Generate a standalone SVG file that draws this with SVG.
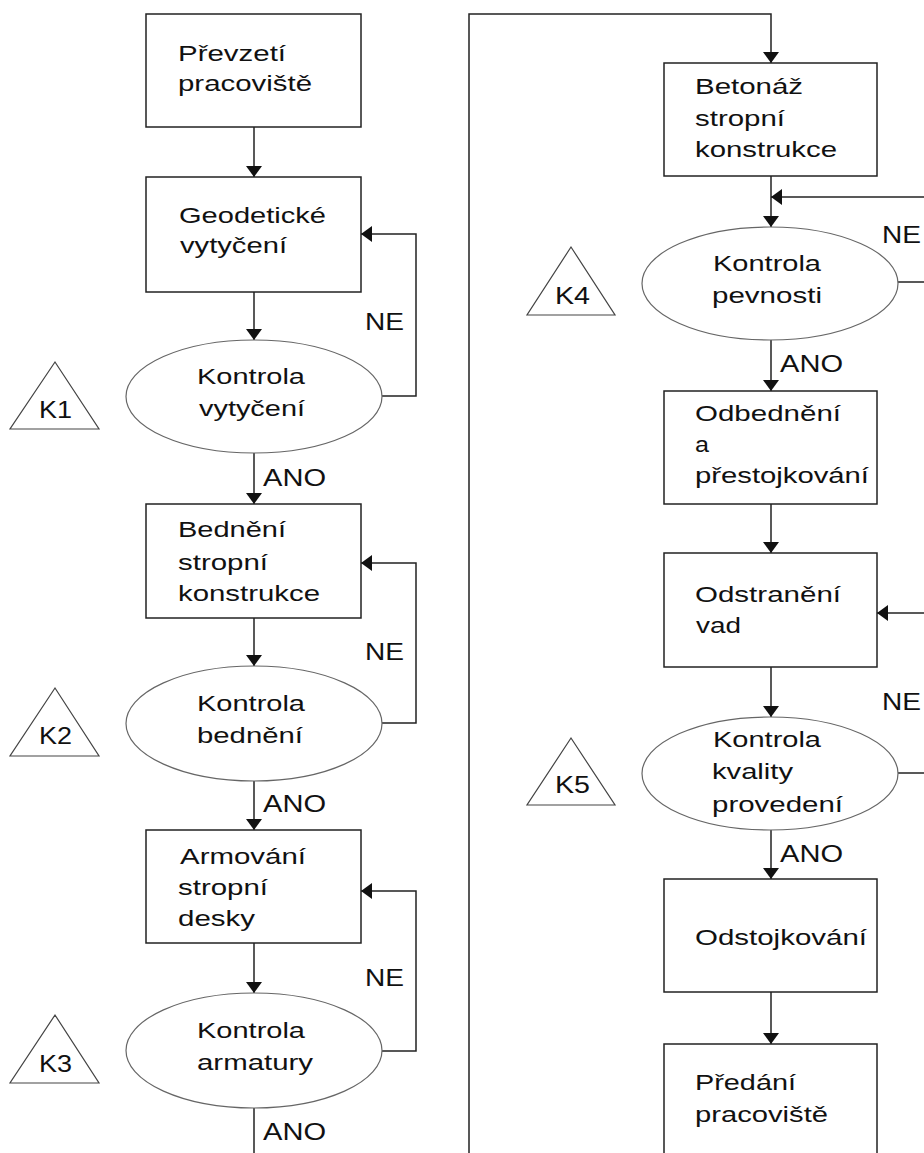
<svg xmlns="http://www.w3.org/2000/svg" width="924" height="1153" viewBox="0 0 924 1153">
<style>
.box{fill:#fff;stroke:#222;stroke-width:1.5}
.ell{fill:#fff;stroke:#666;stroke-width:1.2}
.tri{fill:#fff;stroke:#444;stroke-width:1.2}
.con{fill:none;stroke:#222;stroke-width:1.5}
text{font-family:"Liberation Sans",Arial,sans-serif;font-size:22px;fill:#111}
.lbl{font-size:23px}
</style>
<defs>
<marker id="ah" markerUnits="userSpaceOnUse" markerWidth="12" markerHeight="17" refX="11" refY="8" orient="auto" viewBox="0 0 12 17">
<path d="M0,0 L11,8 L0,16 z" fill="#111"/>
</marker>
</defs>
<rect width="924" height="1153" fill="#fff"/>
<g id="connectors">
<path class="con" d="M254,127 V177" marker-end="url(#ah)"/>
<path class="con" d="M254,292 V340" marker-end="url(#ah)"/>
<path class="con" d="M382,396 H416 V234 H361" marker-end="url(#ah)"/>
<path class="con" d="M254,453 V504" marker-end="url(#ah)"/>
<path class="con" d="M254,618 V666" marker-end="url(#ah)"/>
<path class="con" d="M382,723 H416 V563 H361" marker-end="url(#ah)"/>
<path class="con" d="M254,781 V830" marker-end="url(#ah)"/>
<path class="con" d="M254,943 V993" marker-end="url(#ah)"/>
<path class="con" d="M382,1051 H416 V891 H361" marker-end="url(#ah)"/>
<path class="con" d="M254,1108 V1160"/>
<path class="con" d="M469,1160 V14 H771 V63" marker-end="url(#ah)"/>
<path class="con" d="M771,176 V227" marker-end="url(#ah)"/>
<path class="con" d="M930,197 H771" marker-end="url(#ah)"/>
<path class="con" d="M898,282 H930"/>
<path class="con" d="M771,340 V391" marker-end="url(#ah)"/>
<path class="con" d="M771,504 V553" marker-end="url(#ah)"/>
<path class="con" d="M930,613 H877" marker-end="url(#ah)"/>
<path class="con" d="M771,667 V717" marker-end="url(#ah)"/>
<path class="con" d="M898,773 H930"/>
<path class="con" d="M771,830 V879" marker-end="url(#ah)"/>
<path class="con" d="M771,992 V1044" marker-end="url(#ah)"/>
<text class="lbl" x="365" y="330" textLength="39" lengthAdjust="spacingAndGlyphs">NE</text>
<text class="lbl" x="263" y="486" textLength="63" lengthAdjust="spacingAndGlyphs">ANO</text>
<text class="lbl" x="365" y="660" textLength="39" lengthAdjust="spacingAndGlyphs">NE</text>
<text class="lbl" x="263" y="812" textLength="63" lengthAdjust="spacingAndGlyphs">ANO</text>
<text class="lbl" x="365" y="986" textLength="39" lengthAdjust="spacingAndGlyphs">NE</text>
<text class="lbl" x="263" y="1140" textLength="63" lengthAdjust="spacingAndGlyphs">ANO</text>
<text class="lbl" x="882" y="243" textLength="39" lengthAdjust="spacingAndGlyphs">NE</text>
<text class="lbl" x="780" y="372" textLength="63" lengthAdjust="spacingAndGlyphs">ANO</text>
<text class="lbl" x="882" y="710" textLength="39" lengthAdjust="spacingAndGlyphs">NE</text>
<text class="lbl" x="780" y="862" textLength="63" lengthAdjust="spacingAndGlyphs">ANO</text>
</g>
<g id="n1"><rect class="box" x="146" y="14" width="215" height="113"/>
<text x="178" y="61" textLength="108" lengthAdjust="spacingAndGlyphs">Převzetí</text>
<text x="178" y="91" textLength="134" lengthAdjust="spacingAndGlyphs">pracoviště</text></g>
<g id="n2"><rect class="box" x="146" y="177" width="215" height="115"/>
<text x="179" y="223" textLength="147" lengthAdjust="spacingAndGlyphs">Geodetické</text>
<text x="180" y="253" textLength="107" lengthAdjust="spacingAndGlyphs">vytyčení</text></g>
<g id="n3"><ellipse class="ell" cx="254" cy="396.5" rx="128" ry="56.5"/>
<text x="197" y="384" textLength="108" lengthAdjust="spacingAndGlyphs">Kontrola</text>
<text x="199" y="416" textLength="106" lengthAdjust="spacingAndGlyphs">vytyčení</text></g>
<g id="k1"><polygon class="tri" points="55,362 10,429 99,429"/>
<text class="lbl" x="39" y="418" textLength="33" lengthAdjust="spacingAndGlyphs">K1</text></g>
<g id="n4"><rect class="box" x="146" y="504" width="215" height="114"/>
<text x="178" y="537" textLength="108" lengthAdjust="spacingAndGlyphs">Bednění</text>
<text x="178" y="570" textLength="90" lengthAdjust="spacingAndGlyphs">stropní</text>
<text x="178" y="601" textLength="142" lengthAdjust="spacingAndGlyphs">konstrukce</text></g>
<g id="n5"><ellipse class="ell" cx="254" cy="723.5" rx="128" ry="57.5"/>
<text x="197" y="711" textLength="108" lengthAdjust="spacingAndGlyphs">Kontrola</text>
<text x="197" y="743" textLength="106" lengthAdjust="spacingAndGlyphs">bednění</text></g>
<g id="k2"><polygon class="tri" points="55,688 10,756 99,756"/>
<text class="lbl" x="39" y="744" textLength="33" lengthAdjust="spacingAndGlyphs">K2</text></g>
<g id="n6"><rect class="box" x="146" y="830" width="215" height="113"/>
<text x="180" y="864" textLength="126" lengthAdjust="spacingAndGlyphs">Armování</text>
<text x="178" y="895" textLength="90" lengthAdjust="spacingAndGlyphs">stropní</text>
<text x="178" y="926" textLength="77" lengthAdjust="spacingAndGlyphs">desky</text></g>
<g id="n7"><ellipse class="ell" cx="254" cy="1050.5" rx="128" ry="57.5"/>
<text x="197" y="1038" textLength="108" lengthAdjust="spacingAndGlyphs">Kontrola</text>
<text x="197" y="1070" textLength="116" lengthAdjust="spacingAndGlyphs">armatury</text></g>
<g id="k3"><polygon class="tri" points="55,1015 10,1083 99,1083"/>
<text class="lbl" x="39" y="1072" textLength="33" lengthAdjust="spacingAndGlyphs">K3</text></g>
<g id="n8"><rect class="box" x="664" y="63" width="213" height="113"/>
<text x="695" y="94" textLength="108" lengthAdjust="spacingAndGlyphs">Betonáž</text>
<text x="695" y="126" textLength="90" lengthAdjust="spacingAndGlyphs">stropní</text>
<text x="695" y="157" textLength="142" lengthAdjust="spacingAndGlyphs">konstrukce</text></g>
<g id="n9"><ellipse class="ell" cx="770" cy="283.5" rx="128" ry="56.5"/>
<text x="713" y="271" textLength="108" lengthAdjust="spacingAndGlyphs">Kontrola</text>
<text x="712" y="303" textLength="110" lengthAdjust="spacingAndGlyphs">pevnosti</text></g>
<g id="k4"><polygon class="tri" points="571,247 527,315 615,315"/>
<text class="lbl" x="555" y="304" textLength="35" lengthAdjust="spacingAndGlyphs">K4</text></g>
<g id="n10"><rect class="box" x="664" y="391" width="213" height="113"/>
<text x="695" y="421" textLength="146" lengthAdjust="spacingAndGlyphs">Odbednění</text>
<text x="695" y="452" textLength="14" lengthAdjust="spacingAndGlyphs">a</text>
<text x="695" y="483" textLength="174" lengthAdjust="spacingAndGlyphs">přestojkování</text></g>
<g id="n11"><rect class="box" x="664" y="553" width="213" height="114"/>
<text x="695" y="602" textLength="146" lengthAdjust="spacingAndGlyphs">Odstranění</text>
<text x="696" y="633" textLength="45" lengthAdjust="spacingAndGlyphs">vad</text></g>
<g id="n12"><ellipse class="ell" cx="770" cy="773.5" rx="128" ry="56.5"/>
<text x="713" y="747" textLength="108" lengthAdjust="spacingAndGlyphs">Kontrola</text>
<text x="712" y="779" textLength="81" lengthAdjust="spacingAndGlyphs">kvality</text>
<text x="712" y="812" textLength="131" lengthAdjust="spacingAndGlyphs">provedení</text></g>
<g id="k5"><polygon class="tri" points="571,738 527,805 615,805"/>
<text class="lbl" x="555" y="793" textLength="35" lengthAdjust="spacingAndGlyphs">K5</text></g>
<g id="n13"><rect class="box" x="664" y="879" width="213" height="113"/>
<text x="695" y="945" textLength="172" lengthAdjust="spacingAndGlyphs">Odstojkování</text></g>
<g id="n14"><rect class="box" x="664" y="1044" width="213" height="130"/>
<text x="695" y="1090" textLength="101" lengthAdjust="spacingAndGlyphs">Předání</text>
<text x="695" y="1122" textLength="133" lengthAdjust="spacingAndGlyphs">pracoviště</text></g>
</svg>
